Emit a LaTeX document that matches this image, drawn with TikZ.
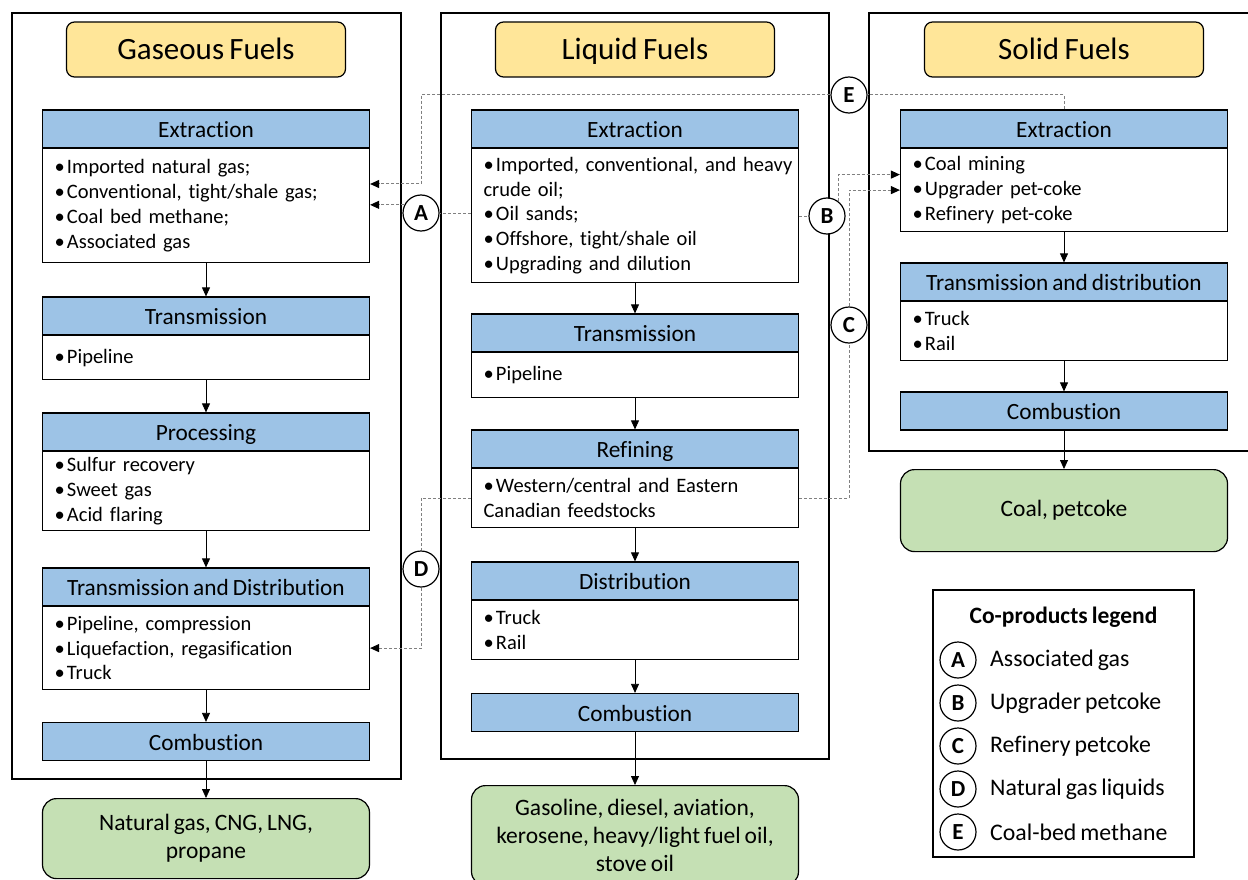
\documentclass[tikz,border=0pt]{standalone}
\usepackage{fontspec}
\setmainfont{Carlito}[Ligatures=NoCommon,WordSpace=0.75]
\usetikzlibrary{arrows.meta}
\definecolor{hdrblue}{HTML}{9DC3E6}
\definecolor{ttlyellow}{HTML}{FFE699}
\definecolor{outgreen}{HTML}{C5E0B4}
\definecolor{dashgray}{HTML}{808080}
\newcommand{\bul}{\makebox[12.5pt][l]{•}}
\begin{document}
\begin{tikzpicture}[x=1pt,y=-1pt,
  panel/.style={draw=black,line width=1.3pt},
  fueltitle/.style={draw=black,fill=ttlyellow,rounded corners=8pt,line width=1.2pt,
    minimum width=279pt,minimum height=55pt,inner sep=0pt,text height=24pt,text depth=3pt,
    font=\fontsize{31}{36}\selectfont},
  hdr/.style={draw=black,fill=hdrblue,line width=1.2pt,minimum width=327pt,
    minimum height=38pt,inner sep=0pt,text height=19.5pt,text depth=2.3pt,
    font=\fontsize{23.3}{27}\selectfont},
  body/.style={draw=black,fill=white,line width=1.2pt,anchor=north,text width=303pt,
    inner xsep=12pt,inner ysep=0pt,align=left,font=\fontsize{20.5}{24.8}\selectfont},
  result/.style={draw=black,fill=outgreen,rounded corners=14pt,line width=1.2pt,anchor=north,
    minimum width=327pt,align=center,font=\fontsize{23.5}{28}\selectfont},
  cpmark/.style={circle,draw=black,fill=white,line width=1.2pt,minimum size=36pt,
    inner sep=0pt,font=\bfseries\fontsize{23}{27}\selectfont},
  flow/.style={-{Triangle[length=9pt,width=8pt]},line width=0.8pt},
  link/.style={draw=dashgray,dash pattern=on 3pt off 2pt,line width=1pt},
  linkarrow/.style={link,-{Triangle[length=9pt,width=8pt,color=black]}},
  legtext/.style={anchor=west,inner sep=0pt,font=\fontsize{23.8}{28}\selectfont}]
\useasboundingbox (0,0) rectangle (1248,880);
\clip (0,0) rectangle (1248,880);

% column frames
\draw[panel] (12,13) rectangle (401,779);
\draw[panel] (441,13) rectangle (829,759);
\draw[panel] (869,13) rectangle (1262,451);

% column titles
\node[fueltitle] (gTitle) at (206,49.5) {Gaseous Fuels};
\node[fueltitle] (lTitle) at (635,49.5) {Liquid Fuels};
\node[fueltitle] (sTitle) at (1064,49.5) {Solid Fuels};

% gaseous fuel chain
\node[hdr] (gExH) at (206,129) {Extraction};
\node[body,minimum height=114pt] (gEx) at (206,148) {\bul Imported natural gas;\\\bul Conventional, tight/shale gas;\\\bul Coal bed methane;\\\bul Associated gas};
\node[hdr] (gTrH) at (206,316) {Transmission};
\node[body,minimum height=44pt] (gTr) at (206,335) {\bul Pipeline};
\node[hdr] (gPrH) at (206,432) {Processing};
\node[body,minimum height=79pt] (gPr) at (206,451) {\bul Sulfur recovery\\\bul Sweet gas\\\bul Acid flaring};
\node[hdr] (gTdH) at (206,587) {Transmission and Distribution};
\node[body,minimum height=83pt] (gTd) at (206,606) {\bul Pipeline, compression\\\bul Liquefaction, regasification\\\bul Truck};
\node[hdr] (gCo) at (206,741.5) {Combustion};
\node[result,minimum height=80pt] (gOut) at (206,798) {Natural gas, CNG, LNG,\\propane};

% liquid fuel chain
\node[hdr] (lExH) at (635,129) {Extraction};
\node[body,minimum height=134pt] (lEx) at (635,148) {\mbox{\bul Imported, conventional, and heavy}\\crude oil;\\\bul Oil sands;\\\bul Offshore, tight/shale oil\\\bul Upgrading and dilution};
\node[hdr] (lTrH) at (635,333) {Transmission};
\node[body,minimum height=45pt] (lTr) at (635,352) {\bul Pipeline};
\node[hdr] (lRfH) at (635,449) {Refining};
\node[body,minimum height=59pt] (lRf) at (635,468) {\bul Western/central and Eastern\\Canadian feedstocks};
\node[hdr] (lDiH) at (635,581) {Distribution};
\node[body,minimum height=59pt] (lDi) at (635,600) {\bul Truck\\\bul Rail};
\node[hdr] (lCo) at (635,712.5) {Combustion};
\node[result,minimum height=100pt] (lOut) at (635,785) {Gasoline, diesel, aviation,\\kerosene, heavy/light fuel oil,\\stove oil};

% solid fuel chain
\node[hdr] (sExH) at (1064,129) {Extraction};
\node[body,minimum height=83pt] (sEx) at (1064,148) {\bul Coal mining\\\bul Upgrader pet-coke\\\bul Refinery pet-coke};
\node[hdr] (sTdH) at (1064,282) {Transmission and distribution};
\node[body,minimum height=59pt] (sTd) at (1064,301) {\bul Truck\\\bul Rail};
\node[hdr] (sCo) at (1064,411) {Combustion};
\node[result,minimum height=82pt] (sOut) at (1064,469) {Coal, petcoke};

% stage-to-stage flow
\draw[flow] (gEx.south) -- (gTrH.north);
\draw[flow] (gTr.south) -- (gPrH.north);
\draw[flow] (gPr.south) -- (gTdH.north);
\draw[flow] (gTd.south) -- (gCo.north);
\draw[flow] (gCo.south) -- (gOut.north);
\draw[flow] (lEx.south) -- (lTrH.north);
\draw[flow] (lTr.south) -- (lRfH.north);
\draw[flow] (lRf.south) -- (lDiH.north);
\draw[flow] (lDi.south) -- (lCo.north);
\draw[flow] (lCo.south) -- (lOut.north);
\draw[flow] (sEx.south) -- (sTdH.north);
\draw[flow] (sTd.south) -- (sCo.north);
\draw[flow] (sCo.south) -- (sOut.north);

% co-product markers
\node[cpmark] (A) at (421,213) {A};
\node[cpmark] (B) at (827,216) {B};
\node[cpmark] (C) at (849,325) {C};
\node[cpmark] (D) at (421,569) {D};
\node[cpmark] (E) at (849,95) {E};

% co-product links
\coordinate (eDrop) at (421,184);
\draw[link] (lEx.west |- A.east) -- (A.east);
\draw[linkarrow] (A.154) -- (A.154 -| gEx.east);
\draw[link] (sExH.north) |- (E.east);
\draw[linkarrow] (E.west) -| (eDrop) -- (eDrop -| gEx.east);
\draw[link] (lEx.east |- B.west) -- (B.west);
\draw[linkarrow] (B.52) |- ([yshift=15.5pt]sEx.west);
\draw[link] (lRf.east) -| (C.south);
\draw[linkarrow] (C.north) |- (sEx.west);
\draw[link] (lRf.west) -| (D.north);
\draw[linkarrow] (D.south) |- (gTd.east);

% legend
\draw[panel,line width=1.2pt] (933,590) rectangle (1194,857);
\node[font=\bfseries\fontsize{23.5}{28}\selectfont] (legTitle) at (1063.5,617) {Co-products legend};
\node[cpmark] (lgA) at (958,660) {A};
\node[cpmark] (lgB) at (958,703) {B};
\node[cpmark] (lgC) at (958,746) {C};
\node[cpmark] (lgD) at (958,789) {D};
\node[cpmark] (lgE) at (958,832) {E};
\node[legtext] (ltA) at (990,660) {Associated gas};
\node[legtext] (ltB) at (990,703) {Upgrader petcoke};
\node[legtext] (ltC) at (990,746) {Refinery petcoke};
\node[legtext] (ltD) at (990,789) {Natural gas liquids};
\node[legtext] (ltE) at (990,832) {Coal-bed methane};
\end{tikzpicture}
\end{document}
